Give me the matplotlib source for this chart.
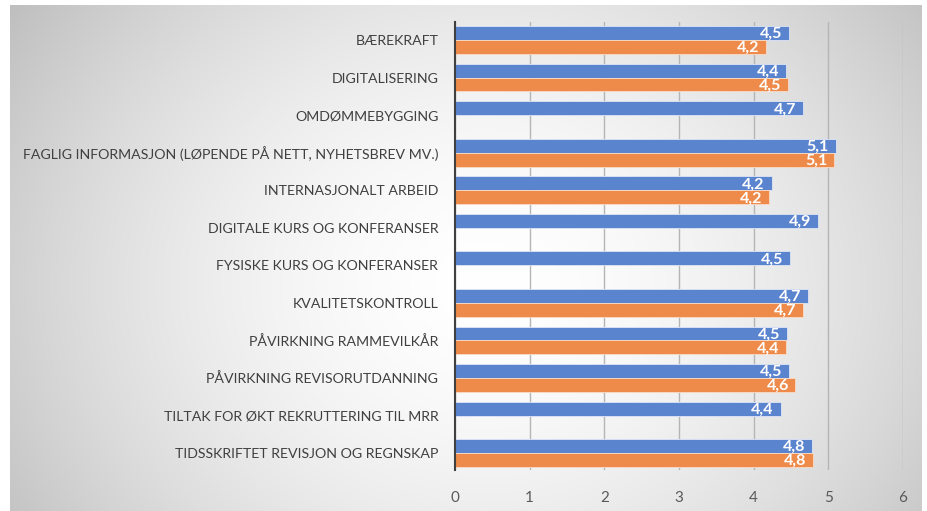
import numpy as np
import matplotlib
matplotlib.use("Agg")
import matplotlib.pyplot as plt

categories = [
    "BÆREKRAFT",
    "DIGITALISERING",
    "OMDØMMEBYGGING",
    "FAGLIG INFORMASJON (LØPENDE PÅ NETT, NYHETSBREV MV.)",
    "INTERNASJONALT ARBEID",
    "DIGITALE KURS OG KONFERANSER",
    "FYSISKE KURS OG KONFERANSER",
    "KVALITETSKONTROLL",
    "PÅVIRKNING RAMMEVILKÅR",
    "PÅVIRKNING REVISORUTDANNING",
    "TILTAK FOR ØKT REKRUTTERING TIL MRR",
    "TIDSSKRIFTET REVISJON OG REGNSKAP",
]
blue_values = [4.47, 4.43, 4.66, 5.10, 4.24, 4.86, 4.49, 4.73, 4.45, 4.47, 4.36, 4.78]
orange_values = [4.17, 4.46, np.nan, 5.08, 4.21, np.nan, np.nan, 4.66, 4.43, 4.56, np.nan, 4.80]
xticks = [0, 1, 2, 3, 4, 5, 6]

BLUE = "#5b84cf"
ORANGE = "#ee8b4b"
FONT = ["Lato", "DejaVu Sans"]

fig = plt.figure(figsize=(9.28, 5.11), dpi=100)
fig.patch.set_facecolor("white")

# background radial gradient panel
bg = fig.add_axes([10 / 928, 0, 912 / 928, 506 / 511], zorder=-5)
H, W = 300, 540
yy, xx = np.mgrid[0:H, 0:W]
cx, cy = 0.52 * W, 0.55 * H
d = np.sqrt(((xx - cx) / (0.55 * W)) ** 2 + ((yy - cy) / (0.85 * H)) ** 2)
d = np.clip(d, 0, 1.3)
g = 1.0 - 0.2 * d ** 1.7
img = np.dstack([g, g, g])
bg.imshow(img, aspect="auto", extent=[0, 1, 0, 1], interpolation="bilinear")
bg.set_axis_off()

ax = fig.add_axes([455 / 928, 1 - 470 / 511, (903 - 455) / 928, (470 - 22) / 511])
ax.patch.set_alpha(0)

y = np.arange(len(categories))
h = 0.37
b1 = ax.barh(y - h / 2, blue_values, height=h, color=BLUE, edgecolor="#dfe6f5", linewidth=0.6, zorder=3)
b2 = ax.barh(y + h / 2, orange_values, height=h, color=ORANGE, edgecolor="#f8dcc8", linewidth=0.6, zorder=3)

for bars, vals in ((b1, blue_values), (b2, orange_values)):
    for rect, v in zip(bars, vals):
        if np.isnan(v):
            continue
        ax.text(v - 0.09, rect.get_y() + rect.get_height() / 2 + 0.03,
                f"{v:.1f}".replace(".", ","), ha="right", va="center",
                color="white", fontsize=11.5, fontweight="bold", family=FONT, zorder=4)

ax.set_xlim(0, 6)
ax.set_ylim(11.45, -0.48)
ax.set_xticks(xticks)
ax.set_xticklabels([str(t) for t in xticks], family=FONT, fontsize=11, color="#595959")
ax.set_yticks(y)
ax.set_yticklabels(categories, family=FONT, fontsize=10.2, color="#404040")
ax.tick_params(axis="both", length=0)
ax.tick_params(axis="x", pad=15)
ax.tick_params(axis="y", pad=12)

ax.grid(axis="x", color="#b5b5b5", linewidth=1.0, zorder=0)
ax.set_axisbelow(True)
for s in ["top", "right", "bottom"]:
    ax.spines[s].set_visible(False)
ax.spines["left"].set_color("#404040")
ax.spines["left"].set_linewidth(1.5)
ax.spines["left"].set_zorder(5)

fig.savefig("out.png", dpi=100)
